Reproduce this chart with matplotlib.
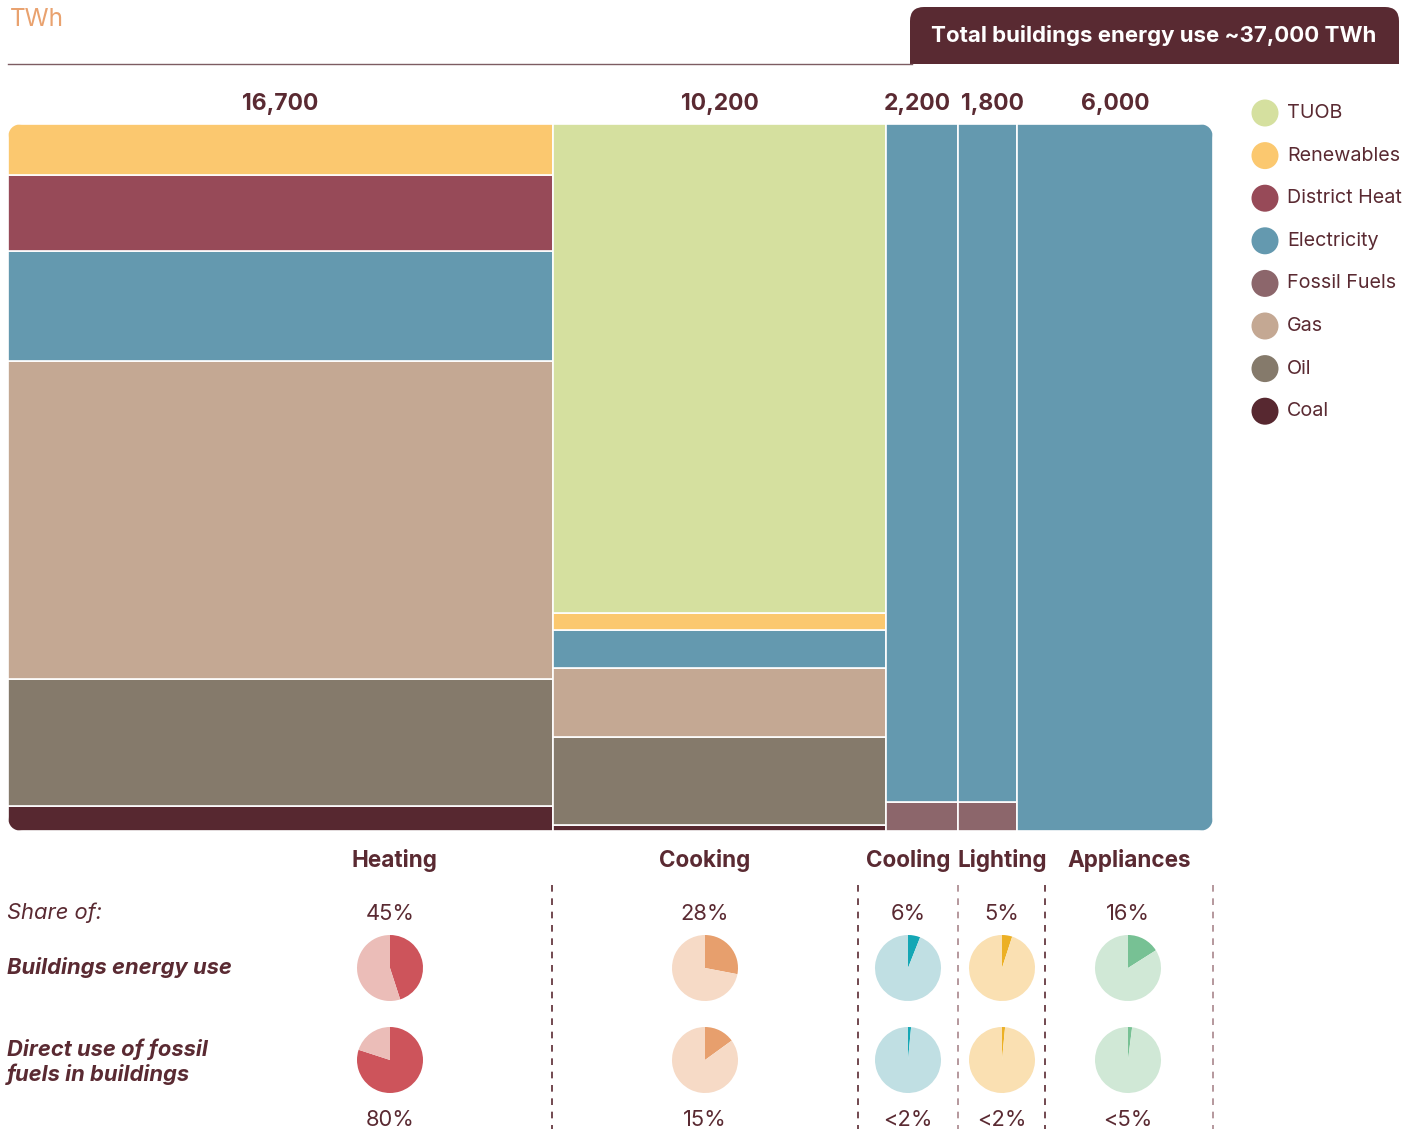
import matplotlib
matplotlib.use("Agg")
import matplotlib.pyplot as plt
from matplotlib.patches import FancyBboxPatch, Rectangle, Circle
from matplotlib.transforms import offset_copy

plt.rcParams['font.family'] = ['Inter', 'DejaVu Sans']

# ---------------- data ----------------
end_uses = ["Heating", "Cooking", "Cooling", "Lighting", "Appliances"]
totals = [16700, 10200, 2200, 1800, 6000]
total_label = ["16,700", "10,200", "2,200", "1,800", "6,000"]

fuels = ["Coal", "Oil", "Gas", "Fossil Fuels", "Electricity", "District Heat", "Renewables", "TUOB"]
heating = {"Coal": 600, "Oil": 3000, "Gas": 7500, "Electricity": 2600, "District Heat": 1800, "Renewables": 1200}
cooking = {"Coal": 90, "Oil": 1260, "Gas": 1000, "Electricity": 550, "Renewables": 250, "TUOB": 7050}
cooling = {"Fossil Fuels": 90, "Electricity": 2110}
lighting = {"Fossil Fuels": 75, "Electricity": 1725}
appliances = {"Electricity": 6000}
breakdown = [heating, cooking, cooling, lighting, appliances]

legend_order = ["TUOB", "Renewables", "District Heat", "Electricity", "Fossil Fuels", "Gas", "Oil", "Coal"]

share_energy = [45, 28, 6, 5, 16]
share_energy_lbl = ["45%", "28%", "6%", "5%", "16%"]
share_fossil = [80, 15, 1.5, 1.5, 2]
share_fossil_lbl = ["80%", "15%", "<2%", "<2%", "<5%"]

# ---------------- styles ----------------
fuel_colors = {"TUOB": "#d5e09f", "Renewables": "#fbc86f", "District Heat": "#974a58",
               "Electricity": "#6499af", "Fossil Fuels": "#8c666b", "Gas": "#c4a893",
               "Oil": "#857a6b", "Coal": "#572830"}
pie_dark = ["#cd545b", "#e79f6d", "#14a7b5", "#ecb024", "#77c194"]
pie_light = ["#ebbdb8", "#f6dac6", "#c0dfe3", "#fae0b2", "#d0e8d6"]
DARK = "#5a2a32"
FS = 15.8
label_dx_px = [0, 0, -5, 5, 0]

W, H = 1419, 1129
fig = plt.figure(figsize=(W / 100, H / 100), dpi=100)

# overlay axes in pixel coords (y down)
ov = fig.add_axes([0, 0, 1, 1])
ov.set_xlim(0, W)
ov.set_ylim(H, 0)
ov.axis("off")

# ---------------- mekko ----------------
x0, x1, ytop, ybot = 8, 1213, 124, 831
ax = fig.add_axes([x0 / W, 1 - ybot / H, (x1 - x0) / W, (ybot - ytop) / H])
ax.set_xlim(0, sum(totals))
ax.set_ylim(0, 1)
ax.axis("off")

clip = FancyBboxPatch((x0 / 100, (H - ybot) / 100), (x1 - x0) / 100, (ybot - ytop) / 100,
                      boxstyle="round,pad=0,rounding_size=0.15",
                      transform=fig.dpi_scale_trans, facecolor="none", edgecolor="none")
fig.add_artist(clip)
clip.set_visible(False)

left = 0
for tot, comp, lbl, dx in zip(totals, breakdown, total_label, label_dx_px):
    bottom = 0
    for f in fuels:
        if f in comp:
            h = comp[f] / tot
            bars = ax.bar(left, h, width=tot, bottom=bottom, align="edge",
                          color=fuel_colors[f], edgecolor="white", linewidth=1.2)
            for b in bars:
                b.set_clip_path(clip)
            bottom += h
    tr = offset_copy(ax.transData, fig=fig, x=dx, y=0, units="dots")
    ax.text(left + tot / 2, 1.0 + 20 / 707, lbl, ha="center", va="center", transform=tr,
            fontsize=16.5, fontweight="bold", color=DARK, clip_on=False)
    left += tot

# ---------------- header ----------------
ov.text(10, 20, "TWh", fontsize=17.5, color="#e9a26f", ha="left", va="center")
ov.plot([8, 912], [63.5, 63.5], color="#7d5c62", lw=1)
hdr = FancyBboxPatch((910, 7), 489, 56, boxstyle="round,pad=0,rounding_size=14",
                     facecolor="#592a32", edgecolor="none")
ov.add_patch(hdr)
ov.add_patch(Rectangle((910, 35), 489, 28.5, facecolor="#592a32", edgecolor="none"))
ov.text(1154, 36, "Total buildings energy use ~37,000 TWh", color="white",
        fontsize=16, fontweight="bold", ha="center", va="center")

# ---------------- legend ----------------
for i, f in enumerate(legend_order):
    y = 113 + i * 42.6
    ov.add_patch(Circle((1265, y), 13.5, facecolor=fuel_colors[f], edgecolor="none"))
    ov.text(1287, y, f, fontsize=14.2, color=DARK, ha="left", va="center")

# ---------------- lower section ----------------
label_x = [394, 705, 908, 1002, 1129]
pie_x = [390, 705, 908, 1002, 1128]
for lx, name in zip(label_x, end_uses):
    ov.text(lx, 861, name, fontsize=16.2, fontweight="bold", color=DARK, ha="center", va="center")

dash_x = [552, 858, 958, 1045, 1213]
dash_c = [DARK, DARK, "#a9868c", DARK, "#a9868c"]
for dx, dc in zip(dash_x, dash_c):
    ov.plot([dx, dx], [885, H], color=dc, lw=1.2, ls=(0, (4, 4)))

ov.text(7, 913, "Share of:", fontsize=FS, style="italic", color=DARK, ha="left", va="center")
ov.text(7, 967, "Buildings energy use", fontsize=FS, style="italic", fontweight="bold",
        color=DARK, ha="left", va="center")
ov.text(7, 1062, "Direct use of fossil\nfuels in buildings", fontsize=FS, style="italic",
        fontweight="bold", color=DARK, ha="left", va="center", linespacing=1.2)

R = 33
for i in range(5):
    ov.text(pie_x[i], 914, share_energy_lbl[i], fontsize=FS, color=DARK, ha="center", va="center")
    ov.text(pie_x[i], 1120, share_fossil_lbl[i], fontsize=FS, color=DARK, ha="center", va="center")
    for cy, val in ((968, share_energy[i]), (1060, share_fossil[i])):
        pa = fig.add_axes([(pie_x[i] - R) / W, 1 - (cy + R) / H, 2 * R / W, 2 * R / H])
        pa.pie([val, 100 - val], colors=[pie_dark[i], pie_light[i]], startangle=90,
               counterclock=False, wedgeprops=dict(linewidth=0), radius=1)
        pa.set_xlim(-1, 1)
        pa.set_ylim(-1, 1)
        pa.set_aspect("equal")
        pa.axis("off")

fig.savefig("out.png", dpi=100)
